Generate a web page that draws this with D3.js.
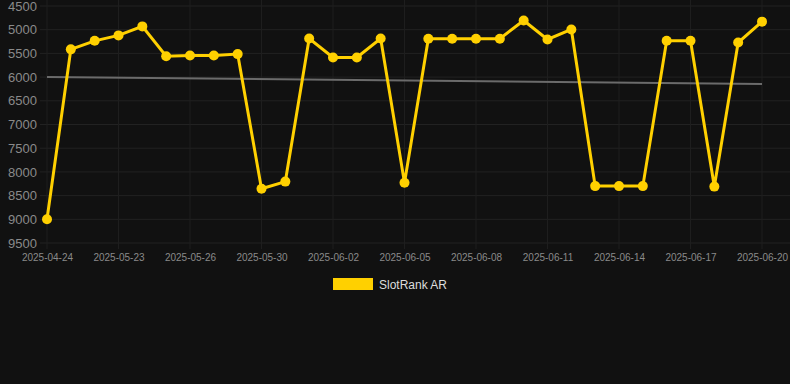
<!DOCTYPE html>
<html><head><meta charset="utf-8">
<script src="https://cdn.jsdelivr.net/npm/d3@7"></script>
<style>
html,body{margin:0;padding:0;background:#111111;}
svg{display:block;}
</style></head>
<body>
<svg id="c" width="790" height="384"></svg>
<script>
const dates = ["2025-04-24","2025-05-21","2025-05-22","2025-05-23","2025-05-24","2025-05-25","2025-05-26","2025-05-27","2025-05-28","2025-05-30","2025-05-31","2025-06-01","2025-06-02","2025-06-03","2025-06-04","2025-06-05","2025-06-06","2025-06-07","2025-06-08","2025-06-09","2025-06-10","2025-06-11","2025-06-12","2025-06-13","2025-06-14","2025-06-15","2025-06-16","2025-06-17","2025-06-18","2025-06-19","2025-06-20"];
const rankAR = [9000,5415,5235,5120,4930,5560,5545,5545,5515,8355,8205,5185,5585,5585,5185,8230,5190,5190,5190,5190,4805,5205,4995,8300,8300,8300,5235,5235,8310,5270,4830];
const trendStart = 6000, trendEnd = 6145;
const yTicks = [4500,5000,5500,6000,6500,7000,7500,8000,8500,9000,9500];
const seriesName = "SlotRank AR";

const svg = d3.select("#c");
const x = d3.scalePoint().domain(dates).range([47, 762]);
const y = d3.scaleLinear().domain([4500, 9500]).range([6, 243]);
const xLabels = dates.filter((d, i) => i % 3 === 0);

// grid
svg.append("g").selectAll("line").data(yTicks).join("line")
  .attr("x1", 40).attr("x2", 790)
  .attr("y1", d => y(d)).attr("y2", d => y(d))
  .attr("stroke", "#222222").attr("stroke-width", 1);
svg.append("g").selectAll("line").data(xLabels).join("line")
  .attr("x1", d => x(d)).attr("x2", d => x(d))
  .attr("y1", 0).attr("y2", 249)
  .attr("stroke", "#1e1e1e").attr("stroke-width", 1);

// y axis
const ya = svg.append("g").attr("transform", "translate(40,0)")
  .call(d3.axisLeft(y).tickValues(yTicks).tickSize(0).tickPadding(3).tickFormat(d3.format("d")));
ya.select(".domain").remove();
ya.selectAll("text").attr("fill", "#8a8a8a").attr("font-size", 13)
  .attr("font-family", "Liberation Sans, Arial, sans-serif");

// x axis
const xa = svg.append("g").attr("transform", "translate(0,252)")
  .call(d3.axisBottom(x).tickValues(xLabels).tickSize(0).tickPadding(2));
xa.select(".domain").remove();
xa.selectAll("text").attr("fill", "#8a8a8a").attr("font-size", 10)
  .attr("font-family", "Liberation Sans, Arial, sans-serif");

// trend line
svg.append("line")
  .attr("x1", x(dates[0])).attr("x2", x(dates[dates.length - 1]))
  .attr("y1", y(trendStart)).attr("y2", y(trendEnd))
  .attr("stroke", "#6b6b6b").attr("stroke-width", 2);

// series
const data = dates.map((d, i) => ({d, v: rankAR[i]}));
svg.append("path").datum(data)
  .attr("fill", "none").attr("stroke", "#FFD000").attr("stroke-width", 3)
  .attr("stroke-linejoin", "miter")
  .attr("d", d3.line().x(p => x(p.d)).y(p => y(p.v)));
svg.append("g").selectAll("circle").data(data).join("circle")
  .attr("cx", p => x(p.d)).attr("cy", p => y(p.v)).attr("r", 5)
  .attr("fill", "#FFD000");

// legend
const lg = svg.append("g");
lg.append("rect").attr("x", 333).attr("y", 278).attr("width", 40).attr("height", 12).attr("fill", "#FFD000");
lg.append("text").attr("x", 379).attr("y", 288.5).text(seriesName)
  .attr("fill", "#dddddd").attr("font-size", 12)
  .attr("font-family", "Liberation Sans, Arial, sans-serif");
</script>
</body></html>
